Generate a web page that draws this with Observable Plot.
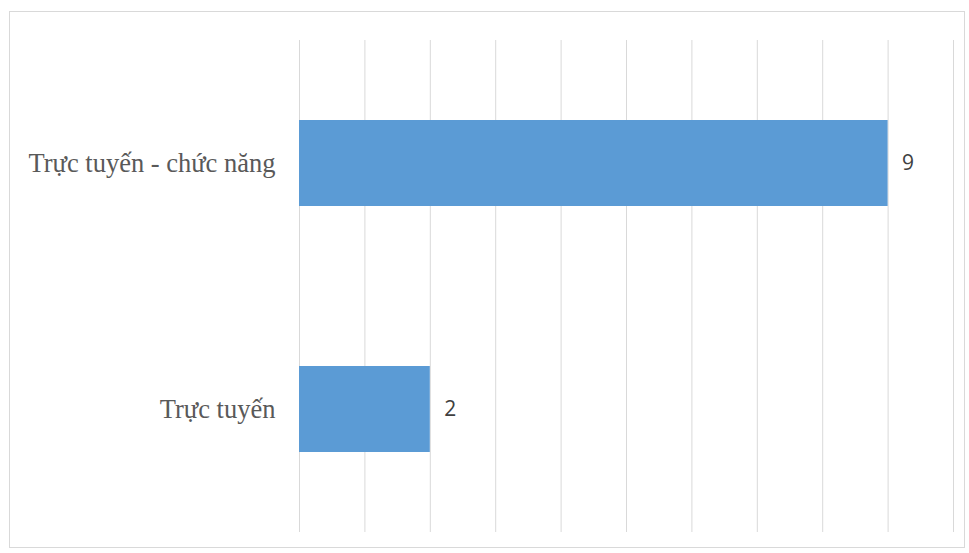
<!DOCTYPE html>
<html>
<head>
<meta charset="utf-8">
<script src="https://cdn.jsdelivr.net/npm/d3@7"></script>
<script src="https://cdn.jsdelivr.net/npm/@observablehq/plot@0.6"></script>
<style>
  html, body { margin: 0; padding: 0; background: #fff; }
  #wrap { position: relative; width: 969px; height: 553px; }
  #border { position: absolute; left: 9px; top: 11px; width: 956px; height: 537px; border: 1px solid #d9d9d9; box-sizing: border-box; pointer-events: none; }
  #chart { position: absolute; left: 0; top: 0; }
</style>
</head>
<body>
<div id="wrap"><div id="chart"></div><div id="border"></div></div>
<script>
const categories = ["Trực tuyến - chức năng", "Trực tuyến"];
const values = [9, 2];
const xTicks = [0, 1, 2, 3, 4, 5, 6, 7, 8, 9, 10];

const data = categories.map((c, i) => ({category: c, value: values[i]}));

const chart = Plot.plot({
  width: 969,
  height: 553,
  marginLeft: 299,
  marginRight: 16,
  marginTop: 40,
  marginBottom: 21,
  style: {background: "transparent", overflow: "visible"},
  x: {domain: [0, 10], axis: null},
  y: {domain: categories, paddingInner: 0.65, paddingOuter: 0.325, label: null},
  marks: [
    Plot.ruleX(xTicks, {stroke: "#d9d9d9", strokeWidth: 1}),
    Plot.barX(data, {x: "value", y: "category", fill: "#5b9bd5"}),
    Plot.text(data, {
      x: "value", y: "category", text: d => String(d.value),
      textAnchor: "start", dx: 14, fill: "#404040",
      fontFamily: "Open Sans", fontSize: 21
    }),
    Plot.axisY({
      tickSize: 0, tickPadding: 24, label: null,
      fontFamily: "Liberation Serif", fontSize: 26.5, fill: "#595959"
    })
  ]
});
document.getElementById("chart").appendChild(chart);
</script>
</body>
</html>
